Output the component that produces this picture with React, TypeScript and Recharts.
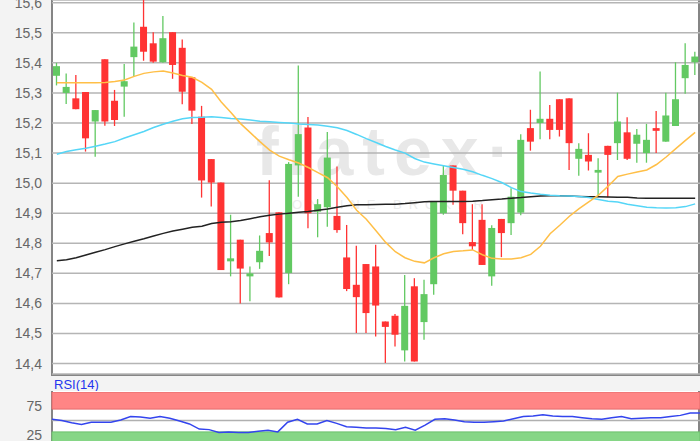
import { ComposedChart, LineChart, Bar, Line, XAxis, YAxis, CartesianGrid, ReferenceArea, ReferenceLine } from 'recharts';

// daily OHLC
const opens = [
  15.357, 15.30, 15.282, 15.303, 15.205, 15.412, 15.274, 15.321, 15.419, 15.52,
  15.465, 15.402, 15.502, 15.45, 15.352, 15.221, 15.08, 15.002, 14.74, 14.812,
  14.69, 14.737, 14.834, 14.903, 14.701, 15.059, 15.185, 14.905, 14.92, 14.891,
  14.753, 14.662, 14.731, 14.723, 14.54, 14.559, 14.444, 14.657, 14.538, 14.664,
  14.90, 15.059, 14.975, 14.804, 14.878, 14.69, 14.881, 14.867, 14.902, 15.183,
  15.20, 15.214, 15.279, 15.282, 15.081, 15.094, 15.035, 15.124, 15.133, 15.169,
  15.131, 15.10, 15.183, 15.138, 15.19, 15.349, 15.402,
];
const highs = [
  15.40, 15.365, 15.36, 15.303, 15.243, 15.412, 15.31, 15.396, 15.534, 15.61,
  15.502, 15.556, 15.502, 15.478, 15.352, 15.257, 15.08, 15.002, 14.895, 14.812,
  14.723, 14.826, 15.01, 14.903, 15.07, 15.391, 15.22, 14.947, 15.17, 15.055,
  14.861, 14.792, 14.731, 14.795, 14.54, 14.565, 14.695, 14.684, 14.679, 14.939,
  15.06, 15.059, 14.975, 14.93, 14.93, 14.86, 14.881, 14.983, 15.163, 15.244,
  15.371, 15.26, 15.279, 15.282, 15.133, 15.166, 15.083, 15.124, 15.301, 15.219,
  15.18, 15.197, 15.24, 15.301, 15.402, 15.465, 15.437,
];
const lows = [
  15.325, 15.263, 15.246, 15.105, 15.088, 15.191, 15.19, 15.221, 15.356, 15.407,
  15.40, 15.40, 15.347, 15.262, 15.197, 14.952, 14.922, 14.711, 14.69, 14.60,
  14.607, 14.715, 14.758, 14.62, 14.664, 14.955, 14.85, 14.82, 14.855, 14.835,
  14.641, 14.502, 14.502, 14.49, 14.402, 14.457, 14.407, 14.407, 14.479, 14.629,
  14.895, 14.928, 14.83, 14.778, 14.728, 14.659, 14.754, 14.828, 14.893, 15.108,
  15.146, 15.146, 15.155, 15.044, 15.025, 15.042, 14.953, 14.953, 15.077, 15.077,
  15.068, 15.068, 15.10, 15.138, 15.19, 15.297, 15.36,
];
const closes = [
  15.389, 15.32, 15.246, 15.149, 15.243, 15.205, 15.21, 15.339, 15.454, 15.437,
  15.404, 15.482, 15.393, 15.304, 15.241, 15.009, 15.002, 14.711, 14.75, 14.716,
  14.70, 14.775, 14.803, 14.62, 15.064, 15.163, 14.90, 14.93, 15.085, 14.844,
  14.648, 14.621, 14.568, 14.593, 14.522, 14.496, 14.592, 14.407, 14.631, 14.939,
  15.027, 14.975, 14.867, 14.79, 14.728, 14.851, 14.834, 14.955, 15.144, 15.138,
  15.214, 15.177, 15.177, 15.133, 15.114, 15.072, 15.044, 15.094, 15.205, 15.081,
  15.161, 15.144, 15.174, 15.225, 15.279, 15.393, 15.421,
];

// moving averages
const ma20 = [
  15.334, 15.334, 15.334, 15.334, 15.334, 15.335, 15.338, 15.343, 15.355, 15.365,
  15.37, 15.373, 15.366, 15.358, 15.352, 15.335, 15.312, 15.27, 15.235, 15.198,
  15.168, 15.138, 15.11, 15.09, 15.078, 15.067, 15.052, 15.035, 15.018, 14.988,
  14.952, 14.91, 14.88, 14.842, 14.803, 14.772, 14.752, 14.74, 14.735, 14.752,
  14.765, 14.773, 14.775, 14.778, 14.762, 14.75, 14.748, 14.748, 14.752, 14.763,
  14.79, 14.832, 14.86, 14.89, 14.915, 14.938, 14.96, 14.99, 15.022, 15.03,
  15.037, 15.044, 15.062, 15.087, 15.115, 15.142, 15.169,
];
const ma50 = [
  15.096, 15.105, 15.111, 15.116, 15.123, 15.13, 15.138, 15.15, 15.161, 15.172,
  15.185, 15.196, 15.206, 15.214, 15.218, 15.219, 15.221, 15.218, 15.215, 15.213,
  15.21, 15.206, 15.204, 15.202, 15.20, 15.197, 15.195, 15.193, 15.189, 15.184,
  15.175, 15.162, 15.148, 15.135, 15.122, 15.11, 15.10, 15.082, 15.07, 15.064,
  15.058, 15.052, 15.046, 15.038, 15.026, 15.015, 15.002, 14.985, 14.972, 14.967,
  14.963, 14.96, 14.958, 14.957, 14.956, 14.952, 14.946, 14.94, 14.937, 14.93,
  14.925, 14.92, 14.918, 14.917, 14.918, 14.922, 14.931,
];
const ma200 = [
  14.742, 14.745, 14.752, 14.761, 14.77, 14.779, 14.789, 14.798, 14.807, 14.815,
  14.824, 14.833, 14.841, 14.847, 14.853, 14.857, 14.866, 14.87, 14.872, 14.876,
  14.882, 14.888, 14.893, 14.897, 14.90, 14.903, 14.906, 14.91, 14.914, 14.92,
  14.925, 14.928, 14.928, 14.929, 14.93, 14.93, 14.932, 14.935, 14.938, 14.939,
  14.939, 14.939, 14.939, 14.94, 14.942, 14.945, 14.947, 14.95, 14.952, 14.955,
  14.957, 14.958, 14.958, 14.957, 14.956, 14.955, 14.955, 14.954, 14.953, 14.953,
  14.951, 14.95, 14.95, 14.95, 14.95, 14.95, 14.95,
];
const rsi14 = [
  52, 50, 46, 43, 47, 47, 47, 51, 57, 56,
  54, 57, 54, 49, 44, 35, 34, 29, 30, 29,
  29, 31, 33, 30, 47, 52, 44, 44, 50, 45,
  39, 38, 37, 37, 36, 34, 38, 33, 42, 52,
  53, 51, 48, 47, 47, 48, 49, 53, 57, 58,
  60, 58, 57, 57, 55, 53, 52, 55, 57, 53,
  54, 55, 55, 57, 59, 63, 63,
];

const priceTicks = [14.4, 14.5, 14.6, 14.7, 14.8, 14.9, 15.0, 15.1, 15.2, 15.3, 15.4, 15.5, 15.6];
const rsiTicks = [25, 75];

const rows = opens.map((open, i) => ({
  day: i,
  open,
  high: highs[i],
  low: lows[i],
  close: closes[i],
  range: [lows[i], highs[i]],
  ma20: ma20[i],
  ma50: ma50[i],
  ma200: ma200[i],
  rsi: rsi14[i],
}));

const FONT = 'Liberation Sans, Arial, sans-serif';
const UP = '#62c962';
const DOWN = '#ff3333';

const Candle = (props: any) => {
  const { x, y, width, height, payload } = props;
  if (!payload) return null;
  const { open, close, high, low } = payload;
  const top = Math.min(y, y + height);
  const h = Math.abs(height);
  const k = h / (high - low);
  const color = close >= open ? UP : DOWN;
  const cx = x + width / 2;
  const bodyTop = top + (high - Math.max(open, close)) * k;
  const bodyH = Math.max(Math.abs(close - open) * k, 1.5);
  return (
    <g>
      <line x1={cx} x2={cx} y1={top} y2={top + h} stroke={color} strokeWidth={1.3} />
      <rect x={x} y={bodyTop} width={width} height={bodyH} fill={color} />
    </g>
  );
};

const tickStyle = { fill: '#666', fontSize: 14, fontFamily: FONT };
const fmt = (v: number) => v.toFixed(1).replace('.', ',');

export default function App() {
  return (
    <div style={{ position: 'fixed', left: 0, top: 0, width: 700, height: 441, overflow: 'hidden', background: '#f3f3f3', fontFamily: FONT }}>
      {/* main frame + watermark */}
      <div style={{ position: 'absolute', left: 51, top: -2, width: 649, height: 378, border: '2px solid #858585', background: '#fff', boxSizing: 'border-box' }} />
      <div style={{ position: 'absolute', left: 256, top: 112, fontSize: 68, fontWeight: 'bold', letterSpacing: 9, color: '#e8e8e8', whiteSpace: 'nowrap' }}>
        flatex·
      </div>
      <div style={{ position: 'absolute', left: 292, top: 197, fontSize: 13, letterSpacing: 7, color: '#ececec', whiteSpace: 'nowrap' }}>
        ONLINE BROKER
      </div>

      <div style={{ position: 'absolute', left: 0, top: 0 }}>
        <ComposedChart width={700} height={375} data={rows} margin={{ top: 0, right: 0, bottom: 1, left: 0 }}>
          <CartesianGrid vertical={false} stroke="#b5b5b5" strokeWidth={1.5} />
          <XAxis dataKey="day" hide />
          <YAxis
            width={52}
            domain={[14.3654, 15.609]}
            allowDataOverflow
            ticks={priceTicks}
            interval={0}
            tickFormatter={fmt}
            tick={tickStyle}
            tickSize={0}
            tickMargin={10}
            axisLine={false}
            tickLine={false}
          />
          <Line dataKey="ma200" stroke="#222" strokeWidth={1.5} dot={false} isAnimationActive={false} />
          <Line dataKey="ma50" stroke="#55d6f7" strokeWidth={1.5} dot={false} isAnimationActive={false} />
          <Line dataKey="ma20" stroke="#ffbf47" strokeWidth={1.5} dot={false} isAnimationActive={false} />
          <Bar dataKey="range" barSize={7} shape={<Candle />} isAnimationActive={false} />
        </ComposedChart>
      </div>

      <div style={{ position: 'absolute', left: 54, top: 377, fontSize: 13, color: '#2435ee', lineHeight: '15px' }}>RSI(14)</div>
      <div style={{ position: 'absolute', left: 51, top: 391, width: 649, height: 60, borderLeft: '2px solid #858585', borderRight: '2px solid #858585', background: '#fff', boxSizing: 'border-box' }} />

      <div style={{ position: 'absolute', left: 0, top: 392 }}>
        <LineChart width={700} height={57} data={rows} margin={{ top: 0, right: 0, bottom: 0, left: 0 }}>
          <XAxis dataKey="day" hide />
          <YAxis
            width={52}
            domain={[0, 100]}
            ticks={rsiTicks}
            interval={0}
            tick={tickStyle}
            tickSize={0}
            tickMargin={10}
            axisLine={false}
            tickLine={false}
          />
          <ReferenceArea y1={70} y2={100} fill="#ff8585" fillOpacity={1} stroke="#e46a6a" strokeWidth={1} ifOverflow="visible" />
          <ReferenceArea y1={0} y2={30} fill="#86d686" fillOpacity={1} stroke="#6cc06c" strokeWidth={1} ifOverflow="visible" />
          <ReferenceLine y={50} stroke="#b0b0b0" strokeWidth={1.5} />
          <Line dataKey="rsi" stroke="#3344ee" strokeWidth={1.5} dot={false} isAnimationActive={false} />
        </LineChart>
      </div>
    </div>
  );
}
